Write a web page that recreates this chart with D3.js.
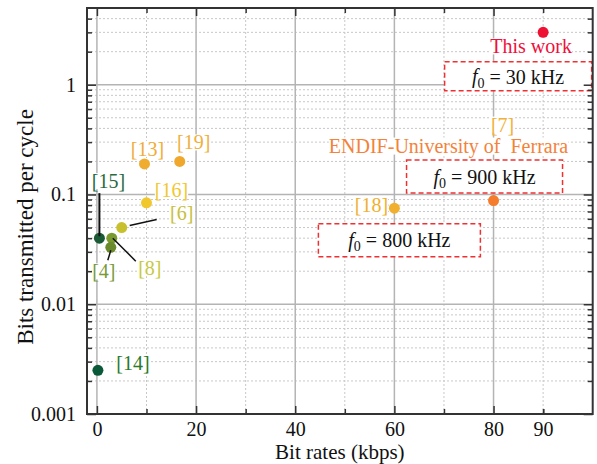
<!DOCTYPE html>
<html>
<head>
<meta charset="utf-8">
<script src="https://cdn.jsdelivr.net/npm/d3@7"></script>
<style>
  body { margin: 0; background: #fff; }
  svg text { font-family: "Liberation Serif", "Times New Roman", serif; }
</style>
</head>
<body>
<div id="chart"></div>
<script>
// data
const refs = ["This work", "[7]", "[18]", "[19]", "[13]", "[16]", "[6]", "[8]", "[4]", "[15]", "[14]"];
const rates = [90, 80, 60, 16.7, 9.6, 10, 5, 3, 2.8, 0.5, 0.2];          // kbps
const bitsPerCycle = [3, 0.088, 0.075, 0.2, 0.19, 0.084, 0.05, 0.04, 0.033, 0.04, 0.0025];
const carrierRef = ["This work", "[7]", "[18]"];
const carrierFreq = ["30 kHz", "900 kHz", "800 kHz"];
const xTicks = [0, 20, 40, 60, 80, 90];
const xMinor = [10, 30, 50, 70, 90];
const yTicks = [0.001, 0.01, 0.1, 1];

// styles
const pointColor = ["#ee1133", "#f47c2c", "#f0b02e", "#f0a82c", "#f0ac2e", "#f0c82e", "#c8c02c", "#7a9a30", "#6a8a2c", "#1a5a34", "#0a5a3a"];
const labelColor = ["#f0103c", "#f2b03a", "#f0b030", "#f0b040", "#f0ac38", "#f0c830", "#c8c040", "#c8c840", "#7a9a3a", "#2a6a40", "#2a7a2a"];
// label centre offsets from point (px)
const labelOff = [[-12, 14], [9, -76], [-23, -3], [14, -19], [3, -15], [25, -13], [60, -15], [38, 30], [-7, 24], [9, -57], [35, -7]];
// leader lines, relative to point (px)
const leaders = {
  "[15]": [[0, -45], [0, -2]],
  "[6]": [[8, -2], [35, -8]],
  "[8]": [[1, 0], [24, 23]],
  "[4]": [[0, 3], [-3, 13]]
};
// dashed boxes: centre offset from point, width, height
const boxOff = [[-25, 44, 147, 29], [-9, -24, 156, 33], [5, 32, 162, 33]];

const margin = { top: 8, right: 4.3, bottom: 50, left: 87 },
  width = 597 - margin.left - margin.right,
  height = 464 - margin.top - margin.bottom;
const fs = 20;

const svg = d3.select("#chart").append("svg")
  .attr("width", 597).attr("height", 464)
  .append("g")
  .attr("transform", "translate(" + margin.left + "," + margin.top + ")");

const x = d3.scaleLinear().domain([-2, 100]).range([0, width]);
const y = d3.scaleLog().domain([0.001, 5]).range([height, 0]);

const yMinor = [];
yTicks.forEach(d => { for (let k = 2; k <= 9; k++) if (d * k < 5) yMinor.push(d * k); });

// grid
const grid = svg.append("g");
grid.selectAll(".gxm").data(xMinor).enter().append("line")
  .attr("x1", d => x(d)).attr("x2", d => x(d)).attr("y1", 0).attr("y2", height)
  .attr("stroke", "#c8c8c8").attr("stroke-dasharray", "2,2");
grid.selectAll(".gym").data(yMinor).enter().append("line")
  .attr("y1", d => y(d)).attr("y2", d => y(d)).attr("x1", 0).attr("x2", width)
  .attr("stroke", "#c8c8c8").attr("stroke-dasharray", "2,2");
grid.selectAll(".gx").data([0, 20, 40, 60, 80]).enter().append("line")
  .attr("x1", d => x(d)).attr("x2", d => x(d)).attr("y1", 0).attr("y2", height)
  .attr("stroke", "#b4b4b4").attr("stroke-width", 1.5);
grid.selectAll(".gy").data(yTicks).enter().append("line")
  .attr("y1", d => y(d)).attr("y2", d => y(d)).attr("x1", 0).attr("x2", width)
  .attr("stroke", "#b4b4b4").attr("stroke-width", 1.5);

const pts = refs.map((r, i) => ({ ref: r, px: x(rates[i]), py: y(bitsPerCycle[i]), i }));
const byRef = r => pts.find(p => p.ref === r);

// dashed boxes with carrier frequency
const boxG = svg.append("g");
carrierRef.forEach((r, j) => {
  const p = byRef(r), b = boxOff[j];
  const cx = p.px + b[0], cy = p.py + b[1];
  boxG.append("rect")
    .attr("x", cx - b[2] / 2).attr("y", cy - b[3] / 2)
    .attr("width", b[2]).attr("height", b[3])
    .attr("fill", "#fff").attr("stroke", "#f03030")
    .attr("stroke-width", 1.5).attr("stroke-dasharray", "5,3");
  const t = boxG.append("text")
    .attr("x", cx).attr("y", cy).attr("dy", "0.35em")
    .attr("text-anchor", "middle").style("font-size", fs + "px").attr("fill", "#111");
  t.append("tspan").attr("font-style", "italic").text("f");
  t.append("tspan").attr("dy", "0.3em").style("font-size", (fs * 0.7) + "px").text("0");
  t.append("tspan").attr("dy", "-0.2em").text(" = " + carrierFreq[j]);
});

// axes
const axG = svg.append("g");
const styleAxis = g => {
  g.select(".domain").remove();
  g.selectAll(".tick line").attr("stroke", "#333").attr("stroke-width", 1.5);
  g.selectAll("text").style("font-size", fs + "px").attr("fill", "#111");
};
axG.append("g").attr("transform", "translate(0," + height + ")")
  .call(d3.axisBottom(x).tickValues(xTicks).tickSize(-8).tickPadding(8).tickFormat(d3.format("d")))
  .call(styleAxis)
  .selectAll(".tick").filter(d => d === 90).select("line").attr("y2", -5);
axG.append("g").attr("transform", "translate(0," + height + ")")
  .call(d3.axisBottom(x).tickValues(xMinor).tickSize(-5).tickFormat(""))
  .call(styleAxis);
axG.append("g").call(d3.axisTop(x).tickValues([0, 20, 40, 60, 80]).tickSize(-8).tickFormat("")).call(styleAxis);
axG.append("g").call(d3.axisTop(x).tickValues(xMinor).tickSize(-5).tickFormat("")).call(styleAxis);
axG.append("g")
  .call(d3.axisLeft(y).tickValues(yTicks).tickSize(-9).tickPadding(11).tickFormat(d => String(d)))
  .call(styleAxis);
axG.append("g").call(d3.axisLeft(y).tickValues(yMinor).tickSize(-5).tickFormat("")).call(styleAxis);
axG.append("g").attr("transform", "translate(" + width + ",0)")
  .call(d3.axisRight(y).tickValues(yTicks).tickSize(-9).tickFormat("")).call(styleAxis);
axG.append("g").attr("transform", "translate(" + width + ",0)")
  .call(d3.axisRight(y).tickValues(yMinor).tickSize(-5).tickFormat("")).call(styleAxis);
axG.append("rect").attr("width", width).attr("height", height)
  .attr("fill", "none").attr("stroke", "#333").attr("stroke-width", 2);

// labels with white backgrounds
const labG = svg.append("g");
const addLabel = (txt, cx, cy, col) => {
  const bg = labG.append("rect").attr("fill", "#fff");
  const t = labG.append("text").attr("x", cx).attr("y", cy).attr("dy", "0.35em")
    .attr("text-anchor", "middle").style("font-size", fs + "px").style("white-space", "pre")
    .attr("fill", col).text(txt);
  const bb = t.node().getBBox();
  bg.attr("x", bb.x).attr("y", bb.y + 3).attr("width", bb.width).attr("height", bb.height - 6);
};
const p7 = byRef("[7]");
addLabel("ENDIF-University of  Ferrara", p7.px - 45, p7.py - 55, "#f4823a");
pts.forEach(p => addLabel(p.ref, p.px + labelOff[p.i][0], p.py + labelOff[p.i][1], labelColor[p.i]));

// points
svg.append("g").selectAll("circle").data(pts).enter().append("circle")
  .attr("cx", d => d.px).attr("cy", d => d.py).attr("r", 5.5)
  .attr("fill", d => pointColor[d.i]);

// leader lines
Object.keys(leaders).forEach(r => {
  const p = byRef(r), l = leaders[r];
  svg.append("line")
    .attr("x1", p.px + l[0][0]).attr("y1", p.py + l[0][1])
    .attr("x2", p.px + l[1][0]).attr("y2", p.py + l[1][1])
    .attr("stroke", "#111").attr("stroke-width", r === "[15]" ? 2 : 1.5);
});

// axis titles
svg.append("text").attr("x", x(49)).attr("y", height + 45)
  .attr("text-anchor", "middle").style("font-size", "21px").attr("fill", "#111")
  .text("Bit rates (kbps)");
svg.append("text").attr("transform", "translate(" + (-62) + "," + 219 + ") rotate(-90)")
  .attr("text-anchor", "middle").attr("dy", "0.35em").style("font-size", "23px").attr("fill", "#111")
  .text("Bits transmitted per cycle");
</script>
</body>
</html>
